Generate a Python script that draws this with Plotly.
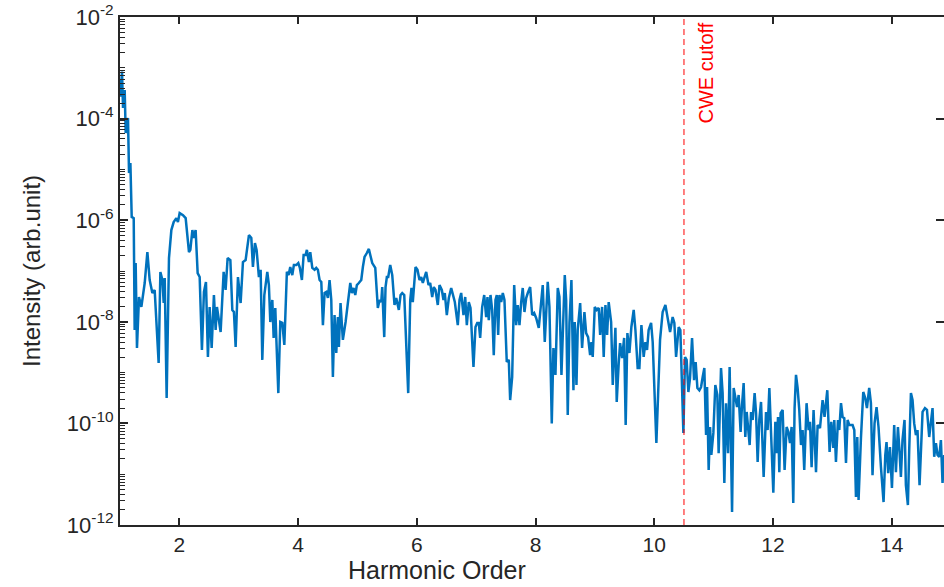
import plotly.graph_objects as go

# ---- data (harmonic order, intensity) ----
seg1_x = [1.000, 1.007, 1.034, 1.051, 1.079, 1.096, 1.135, 1.152, 1.175, 1.197,
          1.231, 1.247, 1.264, 1.286, 1.320, 1.360, 1.416, 1.461, 1.500, 1.545,
          1.584, 1.651, 1.680, 1.714, 1.736, 1.753, 1.786, 1.825, 1.865, 1.904,
          1.949, 1.976, 2.005, 2.061, 2.106, 2.162, 2.185, 2.219, 2.241, 2.274,
          2.308, 2.342, 2.380, 2.414, 2.448, 2.481, 2.510, 2.544, 2.582, 2.611,
          2.633, 2.662, 2.695, 2.746, 2.779, 2.813, 2.859, 2.892, 2.919, 2.948,
          2.987, 3.032, 3.071, 3.116, 3.172, 3.212, 3.239, 3.273, 3.301, 3.340]
seg1_y = [5.8e-4, 2.7e-4, 8.4e-4, 1.62e-4, 3.66e-4, 5.2e-5, 1.03e-4, 8.5e-6, 1.34e-5, 1.16e-6,
          1.10e-6, 6.9e-9, 1.43e-7, 3.05e-9, 3.08e-8, 1.96e-8, 5.8e-8, 2.36e-7, 6.65e-8, 3.69e-8,
          4.23e-8, 1.55e-9, 9.56e-8, 6.65e-8, 2.34e-8, 7.3e-8, 3.16e-10, 1.8e-7, 6.4e-7, 9.2e-7,
          1.1e-6, 9.2e-7, 1.38e-6, 1.26e-6, 1.1e-6, 2.36e-7, 2.6e-7, 6.4e-7, 4.46e-7, 6.4e-7,
          9.1e-8, 7.6e-8, 2.79e-9, 3.86e-8, 6.1e-8, 2.03e-9, 1.96e-8, 3.05e-9, 3.37e-8, 6.9e-9,
          1.96e-8, 1.24e-8, 6.3e-9, 9.6e-8, 4.23e-8, 1.8e-7, 1.64e-7, 1.71e-8, 1.56e-8, 3.2e-9,
          7.6e-8, 2.34e-8, 1.5e-7, 1.64e-7, 5.1e-7, 4.46e-7, 1.2e-7, 3.55e-7, 2.6e-7, 7.6e-8]

seg2_x = [3.369, 3.397, 3.431, 3.481, 3.508, 3.532, 3.566, 3.588, 3.616, 3.633,
          3.667, 3.700, 3.734, 3.768, 3.811, 3.840, 3.868, 3.902, 3.929, 3.969,
          4.003, 4.030, 4.064, 4.093, 4.126, 4.148, 4.182, 4.205, 4.239, 4.278,
          4.306, 4.333, 4.362, 4.391, 4.418, 4.446, 4.475, 4.502, 4.530, 4.559,
          4.586, 4.614, 4.643, 4.670, 4.687, 4.715, 4.754, 4.800, 4.838, 4.879,
          4.906, 4.934, 4.963, 4.990, 5.023, 5.064, 5.091, 5.119, 5.158, 5.192,
          5.220, 5.249, 5.300, 5.343, 5.372, 5.401, 5.417, 5.451, 5.473, 5.495,
          5.518, 5.552, 5.586, 5.624, 5.653, 5.675, 5.697]
seg2_y = [1.06e-7, 1.78e-9, 3.37e-8, 9.6e-8, 5.3e-8, 9.9e-9, 2.69e-8, 4.8e-9, 1.87e-8, 4.8e-9,
          3.95e-10, 9.9e-9, 9.5e-9, 3.5e-9, 9.6e-8, 8.3e-8, 1.2e-7, 8.3e-8, 1.31e-7, 1.31e-7,
          1.43e-7, 1.15e-7, 6.65e-8, 2.07e-7, 2.07e-7, 2.6e-7, 1.5e-7, 2.36e-7, 1.15e-7, 1.06e-7,
          1.15e-7, 1.06e-7, 6.65e-8, 6.1e-8, 8.6e-9, 3.69e-8, 3.86e-8, 2.94e-8, 6.65e-8, 2.69e-8,
          8.2e-10, 1.36e-8, 2.43e-9, 1.24e-8, 3.2e-9, 2.34e-8, 4.4e-9, 9.9e-9, 2.34e-8, 5.8e-8,
          3.69e-8, 4.63e-8, 3.37e-8, 5.3e-8, 5.8e-8, 6.65e-8, 1.2e-7, 1.89e-7, 2.26e-7, 2.72e-7,
          1.98e-7, 1.43e-7, 1.15e-7, 1.87e-8, 2.69e-8, 2.45e-8, 4.84e-8, 5.0e-9, 4.84e-8, 7.6e-8,
          7.6e-8, 1.31e-7, 8.3e-8, 2.14e-8, 2.94e-8, 2.34e-8, 1.71e-8]

seg3_x = [5.726, 5.754, 5.788, 5.821, 5.855, 5.889, 5.910, 5.932, 5.978, 6.011,
          6.045, 6.074, 6.101, 6.130, 6.158, 6.197, 6.225, 6.259, 6.286, 6.315,
          6.353, 6.382, 6.421, 6.449, 6.471, 6.505, 6.539, 6.579, 6.606, 6.640,
          6.690, 6.719, 6.747, 6.786, 6.815, 6.842, 6.875, 6.904, 6.954, 6.988,
          7.017, 7.044, 7.067, 7.101, 7.135, 7.168, 7.190, 7.212, 7.241, 7.269,
          7.296, 7.325, 7.347, 7.370, 7.392, 7.421, 7.448, 7.476, 7.515, 7.549,
          7.572, 7.606, 7.640, 7.673, 7.700, 7.729, 7.758, 7.784, 7.813, 7.842,
          7.869, 7.909, 7.943, 7.976, 8.010, 8.054]
seg3_y = [3.37e-8, 3.69e-8, 3.37e-8, 5.0e-9, 3.95e-10, 2.69e-8, 4.63e-8, 2.45e-8, 1.2e-7, 1.06e-7,
          6.65e-8, 7.6e-8, 5.8e-8, 7.6e-8, 9.6e-8, 5.3e-8, 5.8e-8, 3.08e-8, 4.84e-8, 4.23e-8,
          2.14e-8, 5.3e-8, 4.23e-8, 2.69e-8, 3.69e-8, 1.36e-8, 2.94e-8, 4.63e-8, 3.37e-8, 2.45e-8,
          8.6e-9, 2.69e-8, 3.69e-8, 1.36e-8, 3.08e-8, 8.6e-9, 2.45e-8, 1.87e-8, 1.29e-9, 7.9e-9,
          9.5e-9, 9.5e-9, 4.8e-9, 1.96e-8, 3.37e-8, 1.24e-8, 3.08e-8, 1.08e-8, 3.37e-8, 1.71e-8,
          2.2e-9, 2.69e-8, 3.37e-8, 5.5e-9, 3.37e-8, 2.45e-8, 3.69e-8, 2.69e-8, 1.62e-9, 1.78e-9,
          2.88e-10, 8.2e-10, 5.3e-8, 8.6e-9, 2.14e-8, 8.6e-9, 2.45e-8, 4.63e-8, 1.56e-8, 2.94e-8,
          3.69e-8, 4.84e-8, 1.36e-8, 1.49e-8, 1.19e-8, 7.6e-9]

seg4_x = [8.121, 8.155, 8.205, 8.234, 8.273, 8.301, 8.335, 8.374, 8.402, 8.436,
          8.492, 8.515, 8.542, 8.571, 8.604, 8.638, 8.660, 8.689, 8.710, 8.751,
          8.784, 8.823, 8.852, 8.885, 8.919, 8.941, 8.963, 8.997, 9.030, 9.064,
          9.088, 9.121, 9.148, 9.177, 9.205, 9.232, 9.273, 9.300, 9.345, 9.367,
          9.401, 9.424, 9.458, 9.492, 9.518, 9.547, 9.581, 9.614, 9.653, 9.682,
          9.720, 9.749, 9.783, 9.821, 9.850, 9.878, 9.905, 9.946, 9.973, 10.007,
          10.035, 10.064, 10.097, 10.141, 10.187, 10.225, 10.266, 10.309, 10.338, 10.367,
          10.411, 10.439]
seg4_y = [5.3e-8, 4.0e-9, 6.1e-8, 1.96e-8, 1.0e-10, 3.05e-9, 9.0e-10, 4.63e-8, 3.08e-8, 9.0e-10,
          8.3e-8, 2.69e-8, 1.46e-10, 9.5e-9, 6.65e-8, 4.5e-10, 9.9e-9, 5.7e-10, 6.9e-9, 2.34e-8,
          3.05e-9, 1.56e-8, 6.0e-9, 5.0e-9, 2.2e-9, 4.0e-9, 2.03e-9, 1.96e-8, 1.71e-8, 1.87e-8,
          5.5e-9, 1.96e-8, 2.03e-9, 2.14e-8, 5.5e-9, 2.45e-8, 9.9e-9, 5.7e-10, 7.6e-9, 2.64e-10,
          1.55e-9, 3.8e-9, 1.94e-9, 4.8e-9, 9.3e-11, 6.0e-9, 2.43e-9, 7.9e-9, 1.71e-8, 6.9e-9,
          1.23e-9, 1.23e-9, 8.6e-9, 2.03e-9, 4.0e-9, 2.79e-9, 6.9e-9, 9.5e-9, 4.0e-9, 4.15e-10,
          4.1e-11, 3.63e-10, 4.4e-9, 1.56e-8, 2.14e-8, 1.19e-8, 6.3e-9, 1.24e-8, 9.5e-9, 2.03e-9,
          7.9e-9, 6.9e-9]

seg5_x = [10.468, 10.490, 10.518, 10.545, 10.574, 10.602, 10.636, 10.670, 10.697, 10.726,
          10.759, 10.788, 10.815, 10.843, 10.872, 10.889, 10.916, 10.939, 10.961, 10.995,
          11.028, 11.062, 11.084, 11.124, 11.151, 11.180, 11.208, 11.242, 11.269, 11.298,
          11.310, 11.337, 11.365, 11.394, 11.421, 11.454, 11.478, 11.505, 11.533, 11.556,
          11.584, 11.606, 11.630, 11.657, 11.690, 11.714, 11.741, 11.769, 11.798, 11.820,
          11.842, 11.882, 11.909, 11.938, 11.966, 12.005, 12.039, 12.061, 12.084, 12.106,
          12.128, 12.162, 12.195, 12.229, 12.258, 12.286, 12.313, 12.341, 12.363, 12.387,
          12.414]
seg5_y = [7.1e-10, 6.5e-11, 2.03e-9, 1.78e-9, 4.15e-10, 7.8e-10, 4.8e-9, 7.1e-10, 1.62e-9, 4.98e-10,
          4.5e-10, 5.2e-10, 8.2e-10, 1.23e-9, 5.9e-11, 5.2e-10, 1.21e-11, 8.5e-11, 2.39e-11, 6.5e-11,
          5.7e-10, 3.63e-10, 2.6e-11, 1.23e-9, 3.95e-10, 6.7e-12, 2.5e-10, 2.6e-11, 1.29e-9, 3.43e-11,
          1.8e-12, 4.98e-10, 3.3e-10, 2.1e-10, 3.63e-10, 6.8e-11, 2.3e-10, 6.2e-10, 5.4e-11, 1.68e-10,
          7.4e-11, 3.75e-11, 1.68e-10, 1.17e-10, 3.95e-10, 1.6e-10, 1.74e-11, 1.17e-10, 2.64e-10, 4.7e-11,
          8.8e-12, 1.68e-10, 7.4e-11, 4.98e-10, 6.5e-11, 4.3e-12, 1.07e-10, 2.6e-11, 1.34e-10, 1.1e-11,
          1.6e-10, 1.84e-10, 1.21e-11, 8.5e-11, 6.8e-11, 4.1e-11, 8.5e-11, 2.7e-12, 2.0e-10, 9.0e-10,
          4.98e-10]

seg6_x = [12.442, 12.471, 12.498, 12.526, 12.565, 12.599, 12.622, 12.650, 12.683, 12.724,
          12.751, 12.791, 12.835, 12.868, 12.914, 12.953, 12.981, 13.015, 13.032, 13.060,
          13.094, 13.116, 13.145, 13.172, 13.200, 13.229, 13.256, 13.284, 13.340, 13.369,
          13.397, 13.419, 13.441, 13.481, 13.520, 13.553, 13.582, 13.620, 13.649, 13.676,
          13.710, 13.744, 13.777, 13.818, 13.862, 13.891, 13.912, 13.940, 13.969, 14.003,
          14.041, 14.070, 14.104, 14.126, 14.154, 14.181, 14.215, 14.238, 14.272, 14.294,
          14.323, 14.350, 14.378, 14.407, 14.434, 14.468, 14.497, 14.519, 14.559, 14.593,
          14.631, 14.660, 14.687, 14.715, 14.744, 14.771, 14.800, 14.828, 14.855, 14.883]
seg6_y = [1.84e-10, 3.75e-11, 7.4e-11, 1.21e-11, 2.5e-10, 7.4e-11, 1.07e-10, 1.38e-11, 1.84e-10, 1.1e-11,
          9.3e-11, 8.1e-11, 2.88e-10, 1.34e-10, 4.5e-10, 2.73e-11, 1.07e-10, 3.28e-11, 1.17e-10, 1.74e-11,
          1.17e-10, 7.4e-11, 2.5e-10, 1.34e-10, 1.27e-10, 1.66e-11, 1.17e-10, 9.3e-11, 9.3e-11, 7.4e-11,
          3.55e-12, 5.4e-11, 3.1e-12, 5.2e-11, 4.15e-10, 3.16e-10, 2.0e-10, 4.98e-10, 2.5e-10, 9.6e-12,
          1.0e-10, 2.1e-10, 8.5e-11, 1.38e-11, 2.83e-12, 2.39e-11, 4.3e-11, 1.05e-11, 3.43e-11, 5.35e-12,
          9.3e-11, 1.1e-11, 8.5e-11, 3.43e-11, 8.8e-12, 4.7e-11, 1.17e-10, 6.1e-12, 2.47e-12, 2.99e-11,
          3.95e-10, 2.88e-10, 1.0e-10, 5.9e-11, 7.4e-11, 6.1e-12, 4.7e-11, 1.68e-10, 2.0e-10, 1.84e-10,
          5.4e-11, 1.0e-10, 2.0e-10, 2.2e-11, 4.1e-11, 2.39e-11, 2.2e-11, 4.7e-11, 6.7e-12, 2.39e-11]

cutoff_order = 10.5
cutoff_label = "CWE cutoff"
x_title = "Harmonic Order"
y_title = "Intensity (arb.unit)"
x_ticks = [2, 4, 6, 8, 10, 12, 14]
y_exponents = [-12, -10, -8, -6, -4, -2]

harmonic_order = seg1_x + seg2_x + seg3_x + seg4_x + seg5_x + seg6_x
intensity = seg1_y + seg2_y + seg3_y + seg4_y + seg5_y + seg6_y

AX = "#262626"
FONT = "Liberation Sans, Arial, sans-serif"

fig = go.Figure()
fig.add_trace(go.Scatter(x=harmonic_order, y=intensity, mode="lines",
                         line=dict(color="#0072BD", width=2.5), showlegend=False,
                         hoverinfo="skip"))

# right-side mirrored major ticks (no line)
fig.add_trace(go.Scatter(x=[None], y=[None], yaxis="y2", showlegend=False))

y_tickvals = [10.0 ** e for e in y_exponents]
y_ticktext = ["10<sup>%d</sup>" % e for e in y_exponents]
minor_vals = [m * 10.0 ** k for k in range(-12, -2) for m in range(2, 10)]
minor_vals += [10.0 ** k for k in (-11, -9, -7, -5, -3)]

fig.add_shape(type="line", x0=cutoff_order, x1=cutoff_order, y0=0, y1=1,
              xref="x", yref="paper",
              line=dict(color="#FF0000", width=1, dash="6px,4px"))
fig.add_annotation(x=cutoff_order, y=1, xref="x", yref="paper", text=cutoff_label,
                   showarrow=False, textangle=-90, xanchor="center", yanchor="top",
                   xshift=22, yshift=-3, font=dict(color="#FF0000", size=20, family=FONT))

# axis titles placed as in the reference
fig.add_annotation(x=0.385, y=-0.089, xref="paper", yref="paper", text=x_title,
                   showarrow=False, xanchor="center", yanchor="middle",
                   font=dict(size=25, family=FONT, color=AX))
fig.add_annotation(x=-0.108, y=0.5, xref="paper", yref="paper", text=y_title,
                   showarrow=False, textangle=-90, xanchor="center", yanchor="middle",
                   font=dict(size=24, family=FONT, color=AX))

fig.update_layout(
    width=944, height=587,
    margin=dict(l=120, r=0, t=17, b=62),
    paper_bgcolor="white", plot_bgcolor="white",
    font=dict(family=FONT, color=AX),
    xaxis=dict(range=[1, 14.88], tickvals=x_ticks, ticks="inside", ticklen=7,
               tickwidth=1.5, tickcolor=AX, showline=True, linecolor=AX, linewidth=2,
               mirror="ticks", showgrid=False, zeroline=False,
               tickfont=dict(size=21, family=FONT, color=AX)),
    yaxis=dict(type="log", range=[-12, -2], tickvals=y_tickvals, ticktext=y_ticktext,
               ticks="inside", ticklen=8, tickwidth=1.5, tickcolor=AX,
               showline=True, linecolor=AX, linewidth=2, mirror=False,
               showgrid=False, zeroline=False,
               minor=dict(tickmode="array", tickvals=minor_vals, ticks="inside",
                          ticklen=5, tickwidth=1.2, tickcolor=AX, showgrid=False),
               tickfont=dict(size=22, family=FONT, color=AX)),
    yaxis2=dict(type="log", range=[-12, -2], overlaying="y", side="right",
                tickvals=y_tickvals, showticklabels=False, ticks="inside", ticklen=8,
                tickwidth=1.5, tickcolor=AX, showline=False, showgrid=False, zeroline=False),
)

fig.write_html("out.html")
